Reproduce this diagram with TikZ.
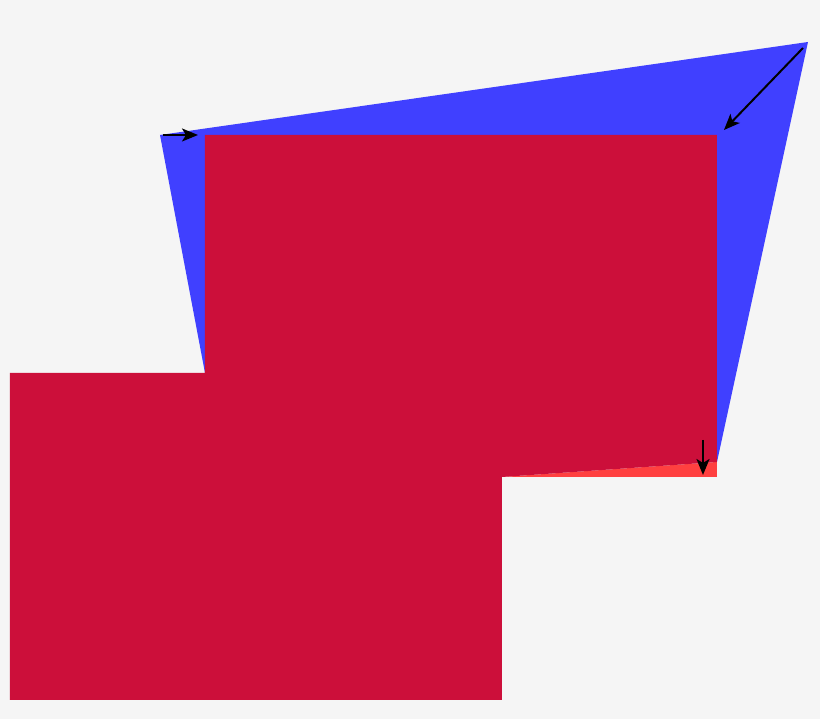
\documentclass[tikz,border=0pt]{standalone}
\usetikzlibrary{arrows.meta}
\definecolor{bgcol}{RGB}{245,245,245}
\definecolor{quadblue}{RGB}{64,64,255}
\definecolor{shapered}{RGB}{255,64,64}
\definecolor{overlap}{RGB}{204,15,58}
\tikzset{
  move/.style={line width=0.02cm,-{Stealth[length=0.16cm,width=0.13cm,inset=0.04cm]}},
}
\begin{document}
\begin{tikzpicture}[x=0.01cm,y=-0.01cm]
          \fill[bgcol] (0,0) rectangle (820,719);
          \useasboundingbox (0,0) rectangle (820,719);

          % corners of the blue quadrilateral
          \coordinate (Q1) at (160,135);
          \coordinate (Q2) at (808,42);
          \coordinate (Q3) at (717,462);
          \coordinate (Q4) at (205,373);

          % corners of the red shape
          \coordinate (R1) at (205,135);
          \coordinate (R2) at (717,135);
          \coordinate (R3) at (717,477);
          \coordinate (R4) at (502,477);
          \coordinate (R5) at (502,700);
          \coordinate (R6) at (10,700);
          \coordinate (R7) at (10,373);

          \fill[quadblue] (Q1) -- (Q2) -- (Q3) -- (Q4) -- cycle;
          \fill[shapered] (R4) -- (Q3) -- (R3) -- cycle;
          \fill[overlap] (R1) -- (R2) -- (Q3) -- (R4) -- (R5) -- (R6) -- (R7) -- (Q4) -- cycle;

          % displacement arrows
          \coordinate (A1) at (163,135);
          \coordinate (B1) at (198,135);
          \coordinate (A2) at (803,48);
          \coordinate (B2) at (724,130);
          \coordinate (A3) at (703,440);
          \coordinate (B3) at (703,475);

          \draw[move] (A1) -- (B1);
          \draw[move] (A2) -- (B2);
          \draw[move] (A3) -- (B3);
        \end{tikzpicture}
\end{document}
